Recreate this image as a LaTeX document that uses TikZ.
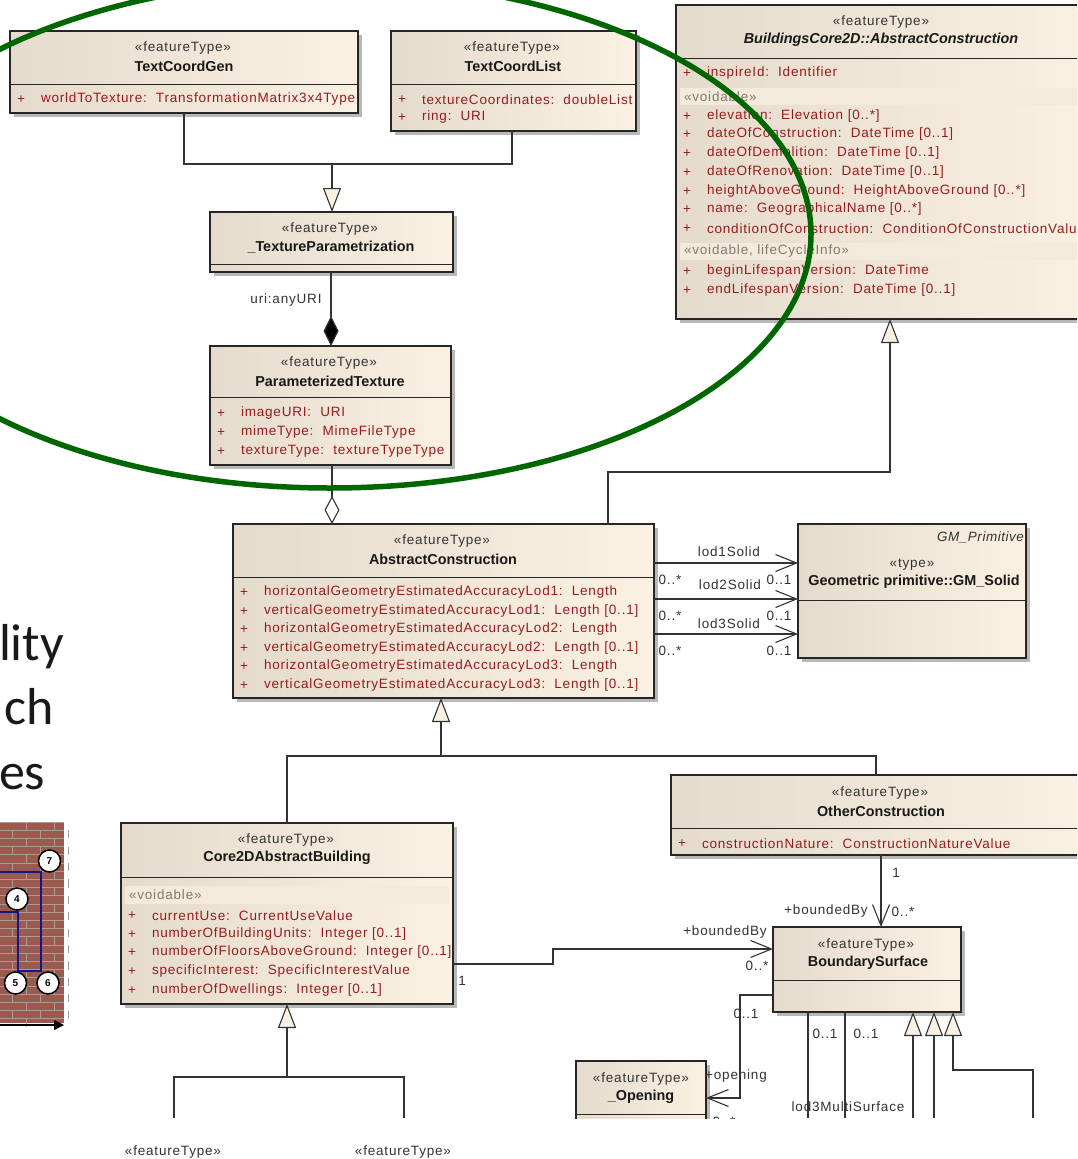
\documentclass[tikz,border=0pt]{standalone}
\usepackage{fontspec}
\usetikzlibrary{arrows.meta,shadows}
\setmainfont{Liberation Sans}
\newfontfamily\ltext[LetterSpace=6]{Liberation Sans}
\newfontfamily\lbold[LetterSpace=0]{Liberation Sans Bold}
\newfontfamily\lital[LetterSpace=4]{Liberation Sans Italic}
\newfontfamily\bital[LetterSpace=0]{Liberation Sans Bold Italic}
\newfontfamily\slidefont{Carlito}
\definecolor{creamL}{HTML}{E4DBCC}
\definecolor{creamR}{HTML}{FBF1E3}
\definecolor{attrred}{HTML}{991B1E}
\definecolor{band}{HTML}{F3EADC}
\definecolor{bandtxt}{HTML}{807A70}
\definecolor{ringgreen}{HTML}{006600}
\definecolor{brick}{HTML}{9A5A50}
\definecolor{mortar}{HTML}{A99C96}
\definecolor{navyline}{HTML}{14148C}
\newcounter{tn}
\tikzset{
  umlbox/.style={draw=black!85,line width=1.1pt,inner sep=0pt,outer sep=0pt,
    left color=creamL,middle color=creamR,right color=creamR,
    general shadow={fill=black!28,shadow xshift=4pt,shadow yshift=-4pt}},
  divline/.style={draw=black!85,line width=1pt},
  conn/.style={draw=black!80,line width=1.1pt},
  gen/.style={conn,-{Triangle[length=24pt,width=18pt,fill=creamR,line width=1.1pt]}},
  openarr/.style={conn,-{Straight Barb[length=21pt,width=17pt,line width=1.1pt]}},
  txt/.style={inner sep=0pt,outer sep=0pt,yshift=-1.4pt,font=\fontsize{13.5}{13.5}\ltext,text=black!80},
  bname/.style={inner sep=0pt,outer sep=0pt,font=\fontsize{14.4}{14.4}\lbold,text=black!90},
  attr/.style={inner sep=0pt,outer sep=0pt,yshift=-1.4pt,anchor=west,font=\fontsize{13.5}{13.5}\ltext,text=attrred},
  band text/.style={inner sep=0pt,outer sep=0pt,anchor=west,font=\fontsize{13.5}{13.5}\ltext,text=bandtxt},
  slide/.style={inner sep=0pt,outer sep=0pt,anchor=base west,font=\fontsize{52}{52}\slidefont,text=black!90},
  numc/.style={circle,draw=black,line width=1.5pt,fill=white,minimum size=22pt,inner sep=0pt,font=\fontsize{10}{10}\lbold},
}
\newcommand{\ubox}[6]{%
  \node[umlbox,minimum width={(#4-#2)*1pt},minimum height={(#5-#3)*1pt}] (#1) at ({(#2+#4)/2},{(#3+#5)/2}) {};
  \draw[divline] (#2,#6) -- (#4,#6);}
\newcommand{\lab}[4][txt]{\stepcounter{tn}\node[#1] (t\thetn) at (#2,#3) {#4};}
\newcommand{\stype}[3][featureType]{\lab{#2}{#3}{«#1»}}
\newcommand{\attrib}[4]{\stepcounter{tn}\node[attr] (t\thetn) at (#1,#3) {+};\stepcounter{tn}\node[attr] (t\thetn) at (#2,#3) {#4};}
\newcommand{\bandrow}[5]{\fill[band] (#1,#2) rectangle (#3,#4);\stepcounter{tn}\node[band text] (t\thetn) at ({#1+4},{(#2+#4)/2}) {#5};}
\begin{document}
\begin{tikzpicture}[x=1pt,y=-1pt]
\useasboundingbox (0,0) rectangle (1077,1159);
\fill[white] (0,0) rectangle (1077,1159);
\clip (0,0) rectangle (1077,1159);

% slide text behind the diagram
\lab[slide]{-1}{660}{lity}
\lab[slide]{5}{724}{ch}
\lab[slide]{-1}{789}{es}

% brick picture
\fill[brick] (0,822) rectangle (64,1023);
\foreach \i in {0,...,24}{
  \draw[mortar,line width=1pt] (0,{822+8.2*\i}) -- (64,{822+8.2*\i});
  \pgfmathsetmacro{\off}{mod(\i,2)*14}
  \foreach \k in {0,1,2}{
    \draw[mortar,line width=.8pt] ({\off+\k*28-2},{822+8.2*\i}) -- ++(0,8.2);
  }
}
\draw[navyline,line width=1.2pt] (0,872) -- (41,872) -- (41,971) -- (18,971) -- (18,912) -- (0,912);
\coordinate (arrowstart) at (-2,1025);
\coordinate (arrowend) at (64,1025);
\draw[black,line width=1.3pt,-{Triangle[length=10pt,width=10pt]}] (arrowstart) -- (arrowend);
\node[numc] (n7) at (49.5,861) {7};
\node[numc] (n4) at (17,899) {4};
\node[numc] (n5) at (15.5,983) {5};
\node[numc] (n6) at (48,983) {6};

\begin{scope}
\clip (0,0) rectangle (1077,1118);

% boxes
\ubox{tcg}{10}{31}{358}{113}{84}
\ubox{tcl}{391}{31}{636}{131}{84}
\ubox{bcore}{676}{5}{1104}{319}{58}
\ubox{tp}{210}{212}{453}{272}{264}
\ubox{pt}{210}{346}{451}{465}{397}
\ubox{absc}{233}{524}{654}{698}{577}
\ubox{gm}{798}{524}{1026}{658}{600}
\ubox{other}{671}{775}{1092}{855}{828}
\ubox{cab}{121}{823}{453}{1004}{877}
\ubox{bs}{773}{927}{961}{1012}{980}
\ubox{op}{576}{1061}{706}{1140}{1114}

% TextCoordGen
\stype{183}{47}\lab[bname]{184}{66}{TextCoordGen}
\attrib{17}{41}{98}{worldToTexture:\ \ TransformationMatrix3x4Type}
% TextCoordList
\stype{512}{47}\lab[bname]{513}{66}{TextCoordList}
\attrib{398}{422}{98}{textureCoordinates:\ \ doubleList}
\attrib{398}{422}{116}{ring:\ \ URI}
% BuildingsCore2D
\stype{881}{21}\lab[bname,font=\fontsize{14.4}{14.4}\bital]{881}{40}{BuildingsCore2D::AbstractConstruction}
\attrib{683}{707}{72}{inspireId:\ \ Identifier}
\bandrow{680}{88}{1077}{105}{«voidable»}
\attrib{683}{707}{115}{elevation:\ \ Elevation [0..*]}
\attrib{683}{707}{133}{dateOfConstruction:\ \ DateTime [0..1]}
\attrib{683}{707}{152}{dateOfDemolition:\ \ DateTime [0..1]}
\attrib{683}{707}{171}{dateOfRenovation:\ \ DateTime [0..1]}
\attrib{683}{707}{190}{heightAboveGround:\ \ HeightAboveGround [0..*]}
\attrib{683}{707}{208}{name:\ \ GeographicalName [0..*]}
\attrib{683}{707}{227}{conditionOfConstruction:\ \ ConditionOfConstructionValue}
\bandrow{680}{243}{1077}{260}{«voidable, lifeCycleInfo»}
\attrib{683}{707}{270}{beginLifespanVersion:\ \ DateTime}
\attrib{683}{707}{289}{endLifespanVersion:\ \ DateTime [0..1]}
% _TextureParametrization
\stype{330}{228}\lab[bname]{331}{247}{\_TextureParametrization}
% ParameterizedTexture
\stype{329}{362}\lab[bname]{330}{381}{ParameterizedTexture}
\attrib{217}{241}{412}{imageURI:\ \ URI}
\attrib{217}{241}{431}{mimeType:\ \ MimeFileType}
\attrib{217}{241}{450}{textureType:\ \ textureTypeType}
% AbstractConstruction
\stype{442}{540}\lab[bname]{443}{559}{AbstractConstruction}
\attrib{240}{264}{591}{horizontalGeometryEstimatedAccuracyLod1:\ \ Length}
\attrib{240}{264}{610}{verticalGeometryEstimatedAccuracyLod1:\ \ Length [0..1]}
\attrib{240}{264}{628}{horizontalGeometryEstimatedAccuracyLod2:\ \ Length}
\attrib{240}{264}{647}{verticalGeometryEstimatedAccuracyLod2:\ \ Length [0..1]}
\attrib{240}{264}{665}{horizontalGeometryEstimatedAccuracyLod3:\ \ Length}
\attrib{240}{264}{684}{verticalGeometryEstimatedAccuracyLod3:\ \ Length [0..1]}
% GM_Solid
\stepcounter{tn}\node[txt,anchor=east,font=\fontsize{13.5}{13.5}\lital] (t\thetn) at (1024,536) {GM\_Primitive};
\stype[type]{912}{563}\lab[bname]{914}{582}{Geometric primitive::GM\_Solid}
% OtherConstruction
\stype{880}{792}\lab[bname]{881}{811}{OtherConstruction}
\attrib{678}{702}{842}{constructionNature:\ \ ConstructionNatureValue}
% Core2DAbstractBuilding
\stype{286}{839}\lab[bname]{287}{858}{Core2DAbstractBuilding}
\bandrow{125}{886}{449}{904}{«voidable»}
\attrib{128}{152}{914}{currentUse:\ \ CurrentUseValue}
\attrib{128}{152}{933}{numberOfBuildingUnits:\ \ Integer [0..1]}
\attrib{128}{152}{951}{numberOfFloorsAboveGround:\ \ Integer [0..1]}
\attrib{128}{152}{970}{specificInterest:\ \ SpecificInterestValue}
\attrib{128}{152}{989}{numberOfDwellings:\ \ Integer [0..1]}
% BoundarySurface
\stype{866}{944}\lab[bname]{868}{963}{BoundarySurface}
% _Opening
\stype{641}{1078}\lab[bname]{641}{1097}{\_Opening}

% junctions
\coordinate (j1) at (332,164);
\coordinate (j2) at (441,756);
\coordinate (j3) at (287,1077);
\coordinate (end1) at (174,1118);
\coordinate (end2) at (404,1118);
\coordinate (end3) at (808,1118);
\coordinate (end4) at (845,1118);
\coordinate (end5) at (913,1118);
\coordinate (end6) at (934,1118);
\coordinate (end7) at (1033,1118);

% connectors
\draw[conn] (tcg.south) |- (j1);
\draw[conn] ([xshift=-1.5pt]tcl.south) |- (j1);
\draw[gen] (j1) -- (tp.north -| j1);
\draw[conn,-{Diamond[length=30pt,width=15pt,fill=black]}] ([xshift=-.5pt]tp.south) -- ([xshift=.5pt]pt.north);
\draw[conn,-{Diamond[length=28pt,width=15pt,fill=white]}] ([xshift=1.5pt]pt.south) -- ([xshift=99pt]absc.north west);
\draw[gen] ([xshift=375pt]absc.north west) |- (890,472) -- ([xshift=214pt]bcore.south west);
\foreach \dy in {39,75,110}{
  \draw[openarr] ([yshift=-\dy pt]absc.north east) -- ([yshift=-\dy pt]gm.north west);
}
\draw[gen] (j2) -- ([xshift=208pt]absc.south west);
\draw[conn] ([xshift=166pt]cab.north west) |- (j2);
\draw[conn] (j2) -| ([xshift=205pt]other.north west);
\draw[gen] (j3) -- ([xshift=166pt]cab.south west);
\draw[conn] (end1) |- (j3);
\draw[conn] (end2) |- (j3);
\draw[openarr] ([yshift=-141pt]cab.north east) -- ++(100,0) |- ([yshift=-22pt]bs.north west);
\draw[openarr] ([xshift=210pt]other.south west) -- ([xshift=108pt]bs.north west);
\draw[openarr] ([yshift=-68pt]bs.north west) -- ++(-33,0) |- ([yshift=-37pt]op.north east);
\draw[conn] ([xshift=35pt]bs.south west) -- (end3);
\draw[conn] ([xshift=72pt]bs.south west) -- (end4);
\draw[gen] (end5) -- ([xshift=140pt]bs.south west);
\draw[gen] (end6) -- ([xshift=161pt]bs.south west);
\draw[gen] (end7) |- (953,1070) -- ([xshift=180pt]bs.south west);

% connector labels
\lab{286}{299}{uri:anyURI}
\lab{729}{550}{lod1Solid}
\lab{730}{583}{lod2Solid}
\lab{729}{622}{lod3Solid}
\lab{670}{578}{0..*}
\lab{670}{614}{0..*}
\lab{670}{649}{0..*}
\lab{779}{578}{0..1}
\lab{779}{614}{0..1}
\lab{779}{649}{0..1}
\lab{462}{979}{1}
\lab{725}{931}{+boundedBy}
\lab{757}{964}{0..*}
\lab{896}{871}{1}
\lab{826}{910}{+boundedBy}
\lab{903}{910}{0..*}
\lab{746}{1012}{0..1}
\lab{736}{1075}{+opening}
\lab{724}{1120}{0..*}
\lab{825}{1032}{0..1}
\lab{866}{1032}{0..1}
\lab{848}{1105}{lod3MultiSurface}
\end{scope}

\lab{173}{1151}{«featureType»}
\lab{403}{1151}{«featureType»}

% green ring
\draw[ringgreen,line width=5.5pt] (330,234) ellipse [x radius=481,y radius=254];
\end{tikzpicture}
\end{document}
